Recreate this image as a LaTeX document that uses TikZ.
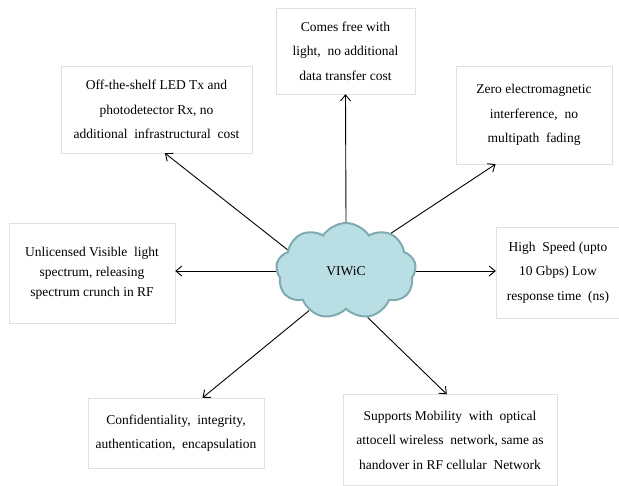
\documentclass[tikz,border=0pt]{standalone}
\usepackage{fontspec}
\setmainfont{Liberation Serif}
\usepackage{tikz}
\usetikzlibrary{arrows.meta,shapes.symbols}

\definecolor{cloudfill}{HTML}{B9DFE4}
\definecolor{cloudline}{HTML}{7EAAB0}

\begin{document}
\begin{tikzpicture}[x=1pt, y=-1pt, font=\fontsize{13.5}{24.5}\selectfont, >={Straight Barb[length=6pt,width=10pt]},
  box/.style={draw=black!12, fill=white, align=center, inner sep=0pt},
  link/.style={->, line width=0.9pt}]
\useasboundingbox (0,0) rectangle (619,486);

\node[cloud, cloud puffs=9, cloud puff arc=115, cloud ignores aspect, fill=cloudfill, draw=cloudline, line width=2pt,
  minimum width=140pt, minimum height=96pt, inner sep=0pt] (viwic) at (346,271) {VIWiC};

\node[box, minimum width=139pt, minimum height=86pt] (free) at (345.5,51) {Comes free with\\light,\ \ no additional\\data transfer cost};
\node[box, minimum width=191pt, minimum height=87pt] (led) at (156.5,109.5) {Off-the-shelf LED Tx and\\photodetector Rx, no\\additional\ \ infrastructural\ \ cost};
\node[box, minimum width=156pt, minimum height=98pt] (zero) at (534,115) {Zero electromagnetic\\interference,\ \ no\\multipath\ \ fading};
\node[box, minimum width=166pt, minimum height=100pt, font=\fontsize{13.5}{20}\selectfont] (spec) at (92,273) {Unlicensed Visible\ \ light\\spectrum, releasing\\spectrum crunch in RF};
\node[box, minimum width=124pt, minimum height=91pt] (speed) at (558,272.5) {High\ \ Speed (upto\\10 Gbps) Low\\response time\ \ (ns)};
\node[box, minimum width=176pt, minimum height=70pt] (conf) at (176,433) {Confidentiality,\ \ integrity,\\authentication,\ \ encapsulation};
\node[box, minimum width=214pt, minimum height=91pt] (mob) at (450,440) {Supports Mobility\ \ with\ \ optical\\attocell wireless\ \ network, same as\\handover in RF cellular\ \ Network};

\draw[link] (viwic.north) -- (free.south);
\draw[link] (viwic.160) -- (led.-79);
\draw[link] (viwic.40) -- (zero.-128);
\draw[link] (viwic.west) -- (viwic.west -| spec.east);
\draw[link] (viwic.east) -- (viwic.east -| speed.west);
\draw[link] (viwic.-133) -- (conf.53);
\draw[link] (viwic.-65) -- (mob.94);
\end{tikzpicture}
\end{document}
